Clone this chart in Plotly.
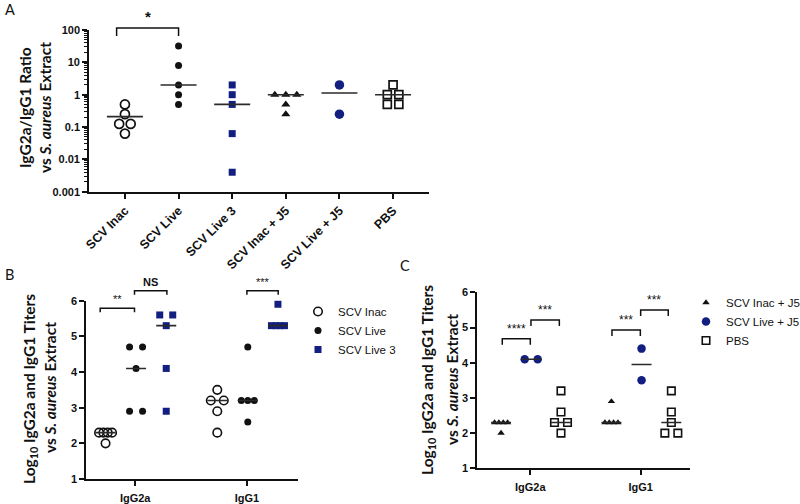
import numpy as np
import plotly.graph_objects as go

W, H = 800, 504
NAVY = "#121F80"
INK = "#111111"
LINE = "#2a2a2a"

# ---------------- Panel A data ----------------
a_categories = ["SCV Inac", "SCV Live", "SCV Live 3", "SCV Inac + J5", "SCV Live + J5", "PBS"]
a_scv_inac = [0.5, 0.25, 0.125, 0.125, 0.0625]
a_scv_live = [32, 8, 2, 1, 0.5]
a_scv_live3 = [2, 1, 0.5, 0.0625, 0.004]
a_scv_inac_j5 = [1, 1, 1, 0.5, 0.25]
a_scv_live_j5 = [2, 0.25]
a_pbs = [2, 1, 1, 0.5, 0.5]
a_centre_lines = [0.21, 2, 0.5, 1, 1.125, 1]
a_yticks = [0.001, 0.01, 0.1, 1, 10, 100]
a_yticktext = ["0.001", "0.01", "0.1", "1", "10", "100"]
a_sig_labels = ["*"]
a_sig_from = [-0.155]
a_sig_to = [1.0]
a_sig_level = [115]

# ---------------- Panel B data ----------------
b_categories = ["IgG2a", "IgG1"]
b_groups = ["SCV Inac", "SCV Live", "SCV Live 3"]
b_scv_inac_igg2a = [2.3, 2.3, 2.3, 2.3, 2.0]
b_scv_inac_igg1 = [3.5, 3.2, 3.2, 2.9, 2.3]
b_scv_live_igg2a = [4.7, 4.7, 4.1, 2.9, 2.9]
b_scv_live_igg1 = [4.7, 3.2, 3.2, 3.2, 2.6]
b_scv_live3_igg2a = [5.6, 5.6, 5.3, 4.1, 2.9]
b_scv_live3_igg1 = [5.9, 5.3, 5.3, 5.3, 5.3]
b_centre_scv_inac = [2.3, 3.2]
b_centre_scv_live = [4.1, 3.2]
b_centre_scv_live3 = [5.3, 5.3]
b_sig_labels = ["**", "NS", "***"]
b_sig_from = [-0.313, -0.006, 1.0]
b_sig_to = [-0.006, 0.284, 1.28]
b_sig_level = [5.79, 6.28, 6.28]

# ---------------- Panel C data ----------------
c_categories = ["IgG2a", "IgG1"]
c_groups = ["SCV Inac + J5", "SCV Live + J5", "PBS"]
c_scv_inac_j5_igg2a = [2.3, 2.3, 2.3, 2.3, 2.0]
c_scv_inac_j5_igg1 = [2.9, 2.3, 2.3, 2.3, 2.3]
c_scv_live_j5_igg2a = [4.1, 4.1]
c_scv_live_j5_igg1 = [4.4, 3.5]
c_pbs_igg2a = [3.2, 2.6, 2.3, 2.3, 2.0]
c_pbs_igg1 = [3.2, 2.6, 2.3, 2.0, 2.0]
c_centre_scv_inac_j5 = [2.3, 2.3]
c_centre_scv_live_j5 = [4.1, 3.95]
c_centre_pbs = [2.3, 2.3]
c_sig_labels = ["****", "***", "***", "***"]
c_sig_from = [-0.254, 0.006, 0.74, 1.0]
c_sig_to = [0.0, 0.263, 0.997, 1.25]
c_sig_level = [4.68, 5.21, 4.93, 5.50]

# ---------------- geometry (pixels) ----------------
PANELS = {
    "A": dict(xpx=(89, 429), ypx=(191.7, 30), xr=(-0.67, 5.67), yr=(-3, 2), log=True),
    "B": dict(xpx=(86, 298.3), ypx=(479, 300.7), xr=(-0.44, 1.46), yr=(1, 6), log=False),
    "C": dict(xpx=(477, 690), ypx=(468.3, 292.3), xr=(-0.483, 1.447), yr=(1, 6), log=False),
}
GROUP_OFFSETS = [-0.265, 0.008, 0.278]


def px_per_unit_x(p):
    g = PANELS[p]
    return (g["xpx"][1] - g["xpx"][0]) / (g["xr"][1] - g["xr"][0])


def data_to_px(p, x, y):
    g = PANELS[p]
    px = g["xpx"][0] + (x - g["xr"][0]) * px_per_unit_x(p)
    yy = np.log10(y) if g["log"] else y
    py = g["ypx"][0] + (yy - g["yr"][0]) * (g["ypx"][1] - g["ypx"][0]) / (g["yr"][1] - g["yr"][0])
    return px, py


def spread(values, p, step_px, max_px):
    counts = {}
    for v in values:
        counts[v] = counts.get(v, 0) + 1
    seen, out = {}, []
    for v in values:
        n = counts[v]
        k = seen.get(v, 0)
        seen[v] = k + 1
        if n == 1:
            out.append(0.0)
        else:
            total = min(step_px * (n - 1), max_px)
            out.append((-total / 2 + k * total / (n - 1)) / px_per_unit_x(p))
    return out


fig = go.Figure()

# ---------------- Panel A traces ----------------
a_series = [a_scv_inac, a_scv_live, a_scv_live3, a_scv_inac_j5, a_scv_live_j5, a_pbs]
a_styles = [
    dict(symbol="circle-open", size=9, color=INK, line=dict(width=1.7, color=INK)),
    dict(symbol="circle", size=7, color=INK),
    dict(symbol="square", size=7, color=NAVY),
    dict(symbol="triangle-up", size=8, color=INK),
    dict(symbol="circle", size=9.5, color=NAVY),
    dict(symbol="square-open", size=8, color=INK, line=dict(width=1.7, color=INK)),
]
hwA = 18 / px_per_unit_x("A")
lx, ly = [], []
for i, (vals, st) in enumerate(zip(a_series, a_styles)):
    offs = spread(vals, "A", 11.5, 22)
    fig.add_trace(go.Scatter(x=[i + o for o in offs], y=vals, mode="markers", marker=st,
                             xaxis="x", yaxis="y", showlegend=False, cliponaxis=False))
    lx += [i - hwA, i + hwA, None]
    ly += [a_centre_lines[i], a_centre_lines[i], None]
fig.add_trace(go.Scatter(x=lx, y=ly, mode="lines", line=dict(color=LINE, width=1.6),
                         xaxis="x", yaxis="y", showlegend=False, hoverinfo="skip"))


# ---------------- Panels B, C traces ----------------
def grouped(panel, xa, ya, series, centres, styles, names, legend):
    hw = 10 / px_per_unit_x(panel)
    lx, ly = [], []
    for gi, (pair, cen, st, nm) in enumerate(zip(series, centres, styles, names)):
        xs, ys = [], []
        for ci, vals in enumerate(pair):
            base = ci + GROUP_OFFSETS[gi]
            offs = spread(vals, panel, 13, 13)
            xs += [base + o for o in offs]
            ys += list(vals)
            lx += [base - hw, base + hw, None]
            ly += [cen[ci], cen[ci], None]
        fig.add_trace(go.Scatter(x=xs, y=ys, mode="markers", marker=st, name=nm,
                                 xaxis=xa, yaxis=ya, legend=legend, cliponaxis=False))
    fig.add_trace(go.Scatter(x=lx, y=ly, mode="lines", line=dict(color=LINE, width=1.6),
                             xaxis=xa, yaxis=ya, showlegend=False, hoverinfo="skip"))


grouped("B", "x2", "y2",
        [(b_scv_inac_igg2a, b_scv_inac_igg1), (b_scv_live_igg2a, b_scv_live_igg1),
         (b_scv_live3_igg2a, b_scv_live3_igg1)],
        [b_centre_scv_inac, b_centre_scv_live, b_centre_scv_live3],
        [dict(symbol="circle-open", size=8.5, color=INK, line=dict(width=1.6, color=INK)),
         dict(symbol="circle", size=7, color=INK),
         dict(symbol="square", size=7, color=NAVY)],
        b_groups, "legend")

grouped("C", "x3", "y3",
        [(c_scv_inac_j5_igg2a, c_scv_inac_j5_igg1), (c_scv_live_j5_igg2a, c_scv_live_j5_igg1),
         (c_pbs_igg2a, c_pbs_igg1)],
        [c_centre_scv_inac_j5, c_centre_scv_live_j5, c_centre_pbs],
        [dict(symbol="triangle-up", size=6.5, color=INK),
         dict(symbol="circle", size=8.5, color=NAVY),
         dict(symbol="square-open", size=7.5, color=INK, line=dict(width=1.6, color=INK))],
        c_groups, "legend2")

# ---------------- significance brackets ----------------
shapes, annotations = [], []


def brackets(panel, labels, x0s, x1s, levels, leg_px, fsize):
    for lab, x0, x1, lv in zip(labels, x0s, x1s, levels):
        p0x, py = data_to_px(panel, x0, lv)
        p1x, _ = data_to_px(panel, x1, lv)
        path = "M {a},{b} L {a},{c} L {d},{c} L {d},{b}".format(
            a=p0x / W, b=1 - (py + leg_px) / H, c=1 - py / H, d=p1x / W)
        shapes.append(dict(type="path", path=path, xref="paper", yref="paper",
                           line=dict(color=INK, width=1.5)))
        annotations.append(dict(x=(p0x + p1x) / 2 / W, y=1 - (py - 1) / H, xref="paper", yref="paper",
                                text=lab, showarrow=False, xanchor="center", yanchor="bottom",
                                font=dict(family="Liberation Sans", size=fsize, color=INK,
                                          weight="bold" if lab in ("*", "NS") else "normal")))


brackets("A", a_sig_labels, a_sig_from, a_sig_to, a_sig_level, 8, 15)
brackets("B", b_sig_labels, b_sig_from, b_sig_to, b_sig_level, 4, 11)
brackets("C", c_sig_labels, c_sig_from, c_sig_to, c_sig_level, 6, 12)

# ---------------- axis titles & panel letters ----------------
TF = dict(family="Lato", size=15.5, color=INK, weight="bold")


def vtext(xpx, ypx, text, font=TF):
    annotations.append(dict(x=xpx / W, y=1 - ypx / H, xref="paper", yref="paper", text=text,
                            textangle=-90, showarrow=False, xanchor="center", yanchor="middle",
                            font=font))


vtext(25, 108, "IgG2a/IgG1 Ratio")
vtext(45, 108, "vs <i>S. aureus</i> Extract")
vtext(30, 389, "Log<sub>10</sub> IgG2a and IgG1 Titers")
vtext(50, 388, "vs <i>S. aureus</i> Extract")
vtext(428, 380, "Log<sub>10</sub> IgG2a and IgG1 Titers")
vtext(452, 379, "vs <i>S. aureus</i> Extract")

for letter, xpx, ypx in [("A", 3, 9), ("B", 3, 274), ("C", 398, 265)]:
    annotations.append(dict(x=xpx / W, y=1 - ypx / H, xref="paper", yref="paper", text=letter,
                            showarrow=False, xanchor="left", yanchor="middle",
                            font=dict(family="Lato", size=14.5, color=INK)))

# ---------------- axes ----------------
axc = dict(showline=True, linecolor=INK, linewidth=1.6, ticks="outside", ticklen=5, tickwidth=1.5,
           tickcolor=INK, showgrid=False, zeroline=False, fixedrange=True, automargin=False,
           tickfont=dict(family="Liberation Sans", size=11, color=INK, weight="bold"))


def dom(p):
    g = PANELS[p]
    return ([g["xpx"][0] / W, g["xpx"][1] / W], [1 - g["ypx"][0] / H, 1 - g["ypx"][1] / H])


minorA = [m * 10.0 ** k for k in range(-3, 2) for m in range(2, 10)]
dxA, dyA = dom("A")
dxB, dyB = dom("B")
dxC, dyC = dom("C")

LEGFONT = dict(family="Liberation Sans", size=11.5, color=INK)

fig.update_layout(
    width=W, height=H, autosize=False,
    margin=dict(l=0, r=0, t=0, b=0, pad=0, autoexpand=False),
    paper_bgcolor="white", plot_bgcolor="white",
    xaxis=dict(axc, domain=dxA, range=list(PANELS["A"]["xr"]), anchor="y",
               tickvals=list(range(len(a_categories))), ticktext=a_categories, tickangle=-45,
               tickfont=dict(family="Liberation Sans", size=12.5, color=INK, weight="bold")),
    yaxis=dict(axc, domain=dyA, type="log", range=list(PANELS["A"]["yr"]), anchor="x",
               tickvals=a_yticks, ticktext=a_yticktext,
               minor=dict(tickvals=minorA, ticks="outside", ticklen=3, tickwidth=1, tickcolor=INK)),
    xaxis2=dict(axc, domain=dxB, range=list(PANELS["B"]["xr"]), anchor="y2",
                tickvals=[0, 1], ticktext=b_categories, ticklabelstandoff=3),
    yaxis2=dict(axc, domain=dyB, range=list(PANELS["B"]["yr"]), anchor="x2", dtick=1),
    xaxis3=dict(axc, domain=dxC, range=list(PANELS["C"]["xr"]), anchor="y3",
                tickvals=[0, 1], ticktext=c_categories, ticklabelstandoff=3),
    yaxis3=dict(axc, domain=dyC, range=list(PANELS["C"]["yr"]), anchor="x3", dtick=1),
    legend=dict(x=298 / W, y=1 - 297 / H, xanchor="left", yanchor="top", font=LEGFONT,
                bgcolor="rgba(0,0,0,0)", tracegroupgap=0),
    legend2=dict(x=686 / W, y=1 - 288 / H, xanchor="left", yanchor="top", font=LEGFONT,
                 bgcolor="rgba(0,0,0,0)", tracegroupgap=0),
    shapes=shapes, annotations=annotations,
)

fig.write_html(
    "out.html",
    config={"displayModeBar": False},
    post_script="document.body.style.margin='0px';document.documentElement.style.overflow='hidden';",
)
